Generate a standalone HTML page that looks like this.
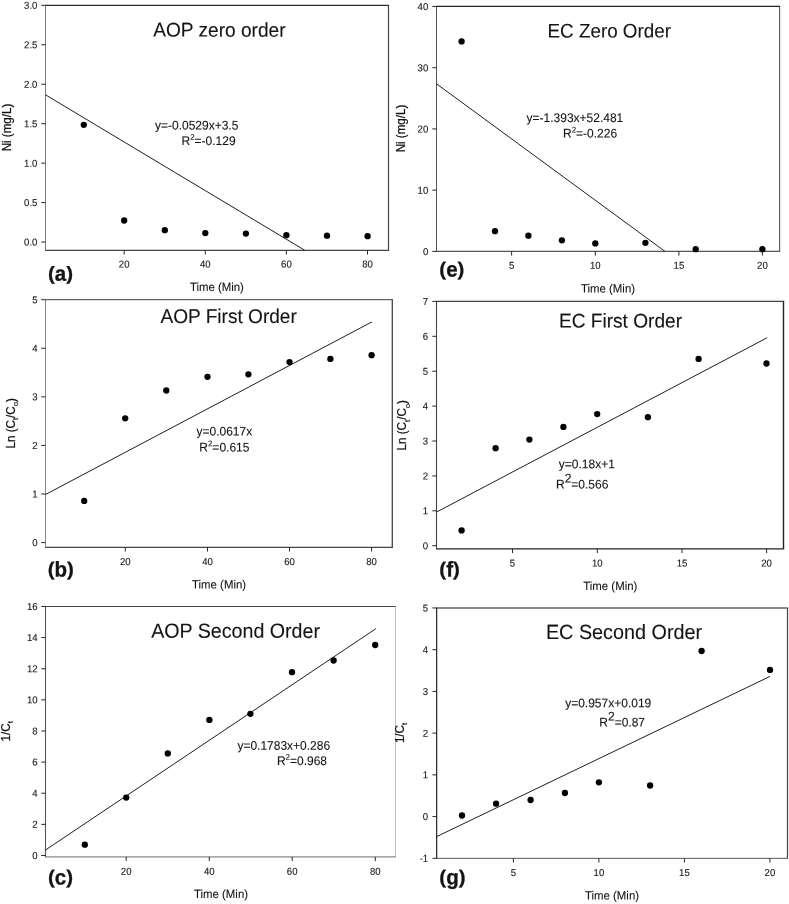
<!DOCTYPE html>
<html><head><meta charset="utf-8"><title>Kinetic order plots</title>
<style>html,body{margin:0;padding:0;background:#fff;}body{width:789px;height:904px;overflow:hidden;font-family:"Liberation Sans",sans-serif;}svg{display:block;font-family:"Liberation Sans",sans-serif;will-change:transform;}</style></head><body>
<svg width="789" height="904" viewBox="0 0 789 904">
<rect x="0" y="0" width="789" height="904" fill="#ffffff"/>
<g id="figure">
<g id="panel-a">
<line x1="45.00" y1="5.30" x2="389.10" y2="5.30" stroke="#2a2a2a" stroke-width="1.3" />
<line x1="388.50" y1="5.30" x2="388.50" y2="250.30" stroke="#444" stroke-width="1.2" />
<line x1="45.00" y1="250.30" x2="389.10" y2="250.30" stroke="#444" stroke-width="1.2" />
<line x1="45.50" y1="5.30" x2="45.50" y2="250.30" stroke="#7c7c7c" stroke-width="1.0" />
<line x1="41.30" y1="5.30" x2="45.50" y2="5.30" stroke="#262626" stroke-width="1.0" />
<text transform="translate(37.40,8.80) rotate(0.03) scale(1,1.04)" font-size="9.6" text-anchor="end" font-weight="normal" fill="#141414" stroke="#141414" stroke-width="0.1" >3.0</text>
<line x1="41.30" y1="44.76" x2="45.50" y2="44.76" stroke="#262626" stroke-width="1.0" />
<text transform="translate(37.40,48.26) rotate(0.03) scale(1,1.04)" font-size="9.6" text-anchor="end" font-weight="normal" fill="#141414" stroke="#141414" stroke-width="0.1" >2.5</text>
<line x1="41.30" y1="84.22" x2="45.50" y2="84.22" stroke="#262626" stroke-width="1.0" />
<text transform="translate(37.40,87.72) rotate(0.03) scale(1,1.04)" font-size="9.6" text-anchor="end" font-weight="normal" fill="#141414" stroke="#141414" stroke-width="0.1" >2.0</text>
<line x1="41.30" y1="123.68" x2="45.50" y2="123.68" stroke="#262626" stroke-width="1.0" />
<text transform="translate(37.40,127.18) rotate(0.03) scale(1,1.04)" font-size="9.6" text-anchor="end" font-weight="normal" fill="#141414" stroke="#141414" stroke-width="0.1" >1.5</text>
<line x1="41.30" y1="163.14" x2="45.50" y2="163.14" stroke="#262626" stroke-width="1.0" />
<text transform="translate(37.40,166.64) rotate(0.03) scale(1,1.04)" font-size="9.6" text-anchor="end" font-weight="normal" fill="#141414" stroke="#141414" stroke-width="0.1" >1.0</text>
<line x1="41.30" y1="202.60" x2="45.50" y2="202.60" stroke="#262626" stroke-width="1.0" />
<text transform="translate(37.40,206.10) rotate(0.03) scale(1,1.04)" font-size="9.6" text-anchor="end" font-weight="normal" fill="#141414" stroke="#141414" stroke-width="0.1" >0.5</text>
<line x1="41.30" y1="242.06" x2="45.50" y2="242.06" stroke="#262626" stroke-width="1.0" />
<text transform="translate(37.40,245.56) rotate(0.03) scale(1,1.04)" font-size="9.6" text-anchor="end" font-weight="normal" fill="#141414" stroke="#141414" stroke-width="0.1" >0.0</text>
<line x1="124.20" y1="250.30" x2="124.20" y2="254.50" stroke="#262626" stroke-width="1.0" />
<text transform="translate(124.20,267.55) rotate(0.03) scale(1,1.04)" font-size="9.6" text-anchor="middle" font-weight="normal" fill="#141414" stroke="#141414" stroke-width="0.1" >20</text>
<line x1="205.30" y1="250.30" x2="205.30" y2="254.50" stroke="#262626" stroke-width="1.0" />
<text transform="translate(205.30,267.55) rotate(0.03) scale(1,1.04)" font-size="9.6" text-anchor="middle" font-weight="normal" fill="#141414" stroke="#141414" stroke-width="0.1" >40</text>
<line x1="286.40" y1="250.30" x2="286.40" y2="254.50" stroke="#262626" stroke-width="1.0" />
<text transform="translate(286.40,267.55) rotate(0.03) scale(1,1.04)" font-size="9.6" text-anchor="middle" font-weight="normal" fill="#141414" stroke="#141414" stroke-width="0.1" >60</text>
<line x1="367.50" y1="250.30" x2="367.50" y2="254.50" stroke="#262626" stroke-width="1.0" />
<text transform="translate(367.50,267.55) rotate(0.03) scale(1,1.04)" font-size="9.6" text-anchor="middle" font-weight="normal" fill="#141414" stroke="#141414" stroke-width="0.1" >80</text>
<text transform="translate(216.90,290.90) rotate(0.03) scale(1,1.04)" font-size="11.4" text-anchor="middle" font-weight="normal" fill="#141414" stroke="#141414" stroke-width="0.1" >Time (Min)</text>
<text transform="translate(10.70,127.50) rotate(-90) scale(1,1.04)" font-size="11.6" stroke="#141414" stroke-width="0.22" text-anchor="middle" fill="#141414">Ni (mg/L)</text>
<text transform="translate(47.95,279.65) rotate(0.03) scale(1,0.925)" font-size="20.5" font-weight="bold" fill="#141414" stroke="#141414" stroke-width="0.3">(</text>
<text transform="translate(54.78,280.65) rotate(0.03) scale(1,1.04)" font-size="20.5" font-weight="bold" fill="#141414" stroke="#141414" stroke-width="0.3">a</text>
<text transform="translate(66.17,279.65) rotate(0.03) scale(1,0.925)" font-size="20.5" font-weight="bold" fill="#141414" stroke="#141414" stroke-width="0.3">)</text>
<text transform="translate(153.30,36.60) rotate(0.03) scale(1,1.04)" font-size="19.1" text-anchor="start" font-weight="normal" fill="#141414" stroke="#141414" stroke-width="0.1" >AOP zero order</text>
<text transform="translate(155.00,129.50) rotate(0.03) scale(1,1.04)" font-size="12.0" text-anchor="start" font-weight="normal" fill="#141414" stroke="#141414" stroke-width="0.1" >y=-0.0529x+3.5</text>
<text transform="translate(181.50,144.90) rotate(0.03) scale(1,1.04)" font-size="12.0" text-anchor="start" font-weight="normal" fill="#141414" stroke="#141414" stroke-width="0.1" >R<tspan font-size="7.9" dy="-5.0">2</tspan><tspan dy="5.0">=-0.129</tspan></text>
<line x1="45.50" y1="94.80" x2="304.80" y2="250.30" stroke="#1e1e1e" stroke-width="1.0" />
<circle cx="83.80" cy="124.80" r="3.15" fill="#000"/>
<circle cx="124.20" cy="220.50" r="3.15" fill="#000"/>
<circle cx="164.80" cy="230.20" r="3.15" fill="#000"/>
<circle cx="205.30" cy="233.10" r="3.15" fill="#000"/>
<circle cx="245.90" cy="233.60" r="3.15" fill="#000"/>
<circle cx="286.40" cy="235.20" r="3.15" fill="#000"/>
<circle cx="327.00" cy="235.70" r="3.15" fill="#000"/>
<circle cx="367.60" cy="236.20" r="3.15" fill="#000"/>
</g>
<g id="panel-e">
<line x1="436.00" y1="6.45" x2="780.15" y2="6.45" stroke="#222" stroke-width="1.2" />
<line x1="779.60" y1="6.45" x2="779.60" y2="251.40" stroke="#555" stroke-width="1.1" />
<line x1="436.00" y1="251.40" x2="780.15" y2="251.40" stroke="#555" stroke-width="1.1" />
<line x1="436.50" y1="6.45" x2="436.50" y2="251.40" stroke="#555" stroke-width="1.0" />
<line x1="432.30" y1="6.45" x2="436.50" y2="6.45" stroke="#262626" stroke-width="1.0" />
<text transform="translate(428.30,9.95) rotate(0.03) scale(1,1.04)" font-size="9.6" text-anchor="end" font-weight="normal" fill="#141414" stroke="#141414" stroke-width="0.1" >40</text>
<line x1="432.30" y1="67.69" x2="436.50" y2="67.69" stroke="#262626" stroke-width="1.0" />
<text transform="translate(428.30,71.19) rotate(0.03) scale(1,1.04)" font-size="9.6" text-anchor="end" font-weight="normal" fill="#141414" stroke="#141414" stroke-width="0.1" >30</text>
<line x1="432.30" y1="128.93" x2="436.50" y2="128.93" stroke="#262626" stroke-width="1.0" />
<text transform="translate(428.30,132.43) rotate(0.03) scale(1,1.04)" font-size="9.6" text-anchor="end" font-weight="normal" fill="#141414" stroke="#141414" stroke-width="0.1" >20</text>
<line x1="432.30" y1="190.17" x2="436.50" y2="190.17" stroke="#262626" stroke-width="1.0" />
<text transform="translate(428.30,193.67) rotate(0.03) scale(1,1.04)" font-size="9.6" text-anchor="end" font-weight="normal" fill="#141414" stroke="#141414" stroke-width="0.1" >10</text>
<line x1="432.30" y1="251.41" x2="436.50" y2="251.41" stroke="#262626" stroke-width="1.0" />
<text transform="translate(428.30,254.91) rotate(0.03) scale(1,1.04)" font-size="9.6" text-anchor="end" font-weight="normal" fill="#141414" stroke="#141414" stroke-width="0.1" >0</text>
<line x1="511.60" y1="251.40" x2="511.60" y2="255.60" stroke="#262626" stroke-width="1.0" />
<text transform="translate(511.60,268.85) rotate(0.03) scale(1,1.04)" font-size="9.6" text-anchor="middle" font-weight="normal" fill="#141414" stroke="#141414" stroke-width="0.1" >5</text>
<line x1="595.30" y1="251.40" x2="595.30" y2="255.60" stroke="#262626" stroke-width="1.0" />
<text transform="translate(595.30,268.85) rotate(0.03) scale(1,1.04)" font-size="9.6" text-anchor="middle" font-weight="normal" fill="#141414" stroke="#141414" stroke-width="0.1" >10</text>
<line x1="678.90" y1="251.40" x2="678.90" y2="255.60" stroke="#262626" stroke-width="1.0" />
<text transform="translate(678.90,268.85) rotate(0.03) scale(1,1.04)" font-size="9.6" text-anchor="middle" font-weight="normal" fill="#141414" stroke="#141414" stroke-width="0.1" >15</text>
<line x1="762.40" y1="251.40" x2="762.40" y2="255.60" stroke="#262626" stroke-width="1.0" />
<text transform="translate(762.40,268.85) rotate(0.03) scale(1,1.04)" font-size="9.6" text-anchor="middle" font-weight="normal" fill="#141414" stroke="#141414" stroke-width="0.1" >20</text>
<text transform="translate(608.00,292.60) rotate(0.03) scale(1,1.04)" font-size="11.4" text-anchor="middle" font-weight="normal" fill="#141414" stroke="#141414" stroke-width="0.1" >Time (Min)</text>
<text transform="translate(404.50,128.50) rotate(-90) scale(1,1.04)" font-size="11.6" stroke="#141414" stroke-width="0.22" text-anchor="middle" fill="#141414">Ni (mg/L)</text>
<text transform="translate(439.35,275.55) rotate(0.03) scale(1,0.925)" font-size="20.5" font-weight="bold" fill="#141414" stroke="#141414" stroke-width="0.3">(</text>
<text transform="translate(446.18,276.55) rotate(0.03) scale(1,1.04)" font-size="20.5" font-weight="bold" fill="#141414" stroke="#141414" stroke-width="0.3">e</text>
<text transform="translate(457.57,275.55) rotate(0.03) scale(1,0.925)" font-size="20.5" font-weight="bold" fill="#141414" stroke="#141414" stroke-width="0.3">)</text>
<text transform="translate(547.50,37.40) rotate(0.03) scale(1,1.04)" font-size="18.85" text-anchor="start" font-weight="normal" fill="#141414" stroke="#141414" stroke-width="0.1" >EC Zero Order</text>
<text transform="translate(526.60,121.90) rotate(0.03) scale(1,1.04)" font-size="12.0" text-anchor="start" font-weight="normal" fill="#141414" stroke="#141414" stroke-width="0.1" >y=-1.393x+52.481</text>
<text transform="translate(563.00,137.60) rotate(0.03) scale(1,1.04)" font-size="12.0" text-anchor="start" font-weight="normal" fill="#141414" stroke="#141414" stroke-width="0.1" >R<tspan font-size="7.9" dy="-5.0">2</tspan><tspan dy="5.0">=-0.226</tspan></text>
<line x1="436.50" y1="83.80" x2="665.00" y2="251.40" stroke="#1e1e1e" stroke-width="1.0" />
<circle cx="461.60" cy="41.40" r="3.15" fill="#000"/>
<circle cx="495.00" cy="231.20" r="3.15" fill="#000"/>
<circle cx="528.40" cy="235.70" r="3.15" fill="#000"/>
<circle cx="561.90" cy="240.30" r="3.15" fill="#000"/>
<circle cx="595.30" cy="243.40" r="3.15" fill="#000"/>
<circle cx="645.40" cy="242.80" r="3.15" fill="#000"/>
<circle cx="695.70" cy="249.20" r="3.15" fill="#000"/>
<circle cx="762.40" cy="249.20" r="3.15" fill="#000"/>
</g>
<g id="panel-b">
<line x1="45.00" y1="299.70" x2="392.95" y2="299.70" stroke="#666" stroke-width="1.3" />
<line x1="392.30" y1="299.70" x2="392.30" y2="547.30" stroke="#444" stroke-width="1.3" />
<line x1="45.00" y1="547.30" x2="392.95" y2="547.30" stroke="#444" stroke-width="1.2" />
<line x1="45.50" y1="299.70" x2="45.50" y2="547.30" stroke="#858585" stroke-width="1.0" />
<line x1="41.30" y1="299.70" x2="45.50" y2="299.70" stroke="#262626" stroke-width="1.0" />
<text transform="translate(37.60,303.20) rotate(0.03) scale(1,1.04)" font-size="9.6" text-anchor="end" font-weight="normal" fill="#141414" stroke="#141414" stroke-width="0.1" >5</text>
<line x1="41.30" y1="348.28" x2="45.50" y2="348.28" stroke="#262626" stroke-width="1.0" />
<text transform="translate(37.60,351.78) rotate(0.03) scale(1,1.04)" font-size="9.6" text-anchor="end" font-weight="normal" fill="#141414" stroke="#141414" stroke-width="0.1" >4</text>
<line x1="41.30" y1="396.86" x2="45.50" y2="396.86" stroke="#262626" stroke-width="1.0" />
<text transform="translate(37.60,400.36) rotate(0.03) scale(1,1.04)" font-size="9.6" text-anchor="end" font-weight="normal" fill="#141414" stroke="#141414" stroke-width="0.1" >3</text>
<line x1="41.30" y1="445.44" x2="45.50" y2="445.44" stroke="#262626" stroke-width="1.0" />
<text transform="translate(37.60,448.94) rotate(0.03) scale(1,1.04)" font-size="9.6" text-anchor="end" font-weight="normal" fill="#141414" stroke="#141414" stroke-width="0.1" >2</text>
<line x1="41.30" y1="494.02" x2="45.50" y2="494.02" stroke="#262626" stroke-width="1.0" />
<text transform="translate(37.60,497.52) rotate(0.03) scale(1,1.04)" font-size="9.6" text-anchor="end" font-weight="normal" fill="#141414" stroke="#141414" stroke-width="0.1" >1</text>
<line x1="41.30" y1="542.60" x2="45.50" y2="542.60" stroke="#262626" stroke-width="1.0" />
<text transform="translate(37.60,546.10) rotate(0.03) scale(1,1.04)" font-size="9.6" text-anchor="end" font-weight="normal" fill="#141414" stroke="#141414" stroke-width="0.1" >0</text>
<line x1="125.30" y1="547.30" x2="125.30" y2="551.50" stroke="#262626" stroke-width="1.0" />
<text transform="translate(125.30,565.05) rotate(0.03) scale(1,1.04)" font-size="9.6" text-anchor="middle" font-weight="normal" fill="#141414" stroke="#141414" stroke-width="0.1" >20</text>
<line x1="207.50" y1="547.30" x2="207.50" y2="551.50" stroke="#262626" stroke-width="1.0" />
<text transform="translate(207.50,565.05) rotate(0.03) scale(1,1.04)" font-size="9.6" text-anchor="middle" font-weight="normal" fill="#141414" stroke="#141414" stroke-width="0.1" >40</text>
<line x1="289.50" y1="547.30" x2="289.50" y2="551.50" stroke="#262626" stroke-width="1.0" />
<text transform="translate(289.50,565.05) rotate(0.03) scale(1,1.04)" font-size="9.6" text-anchor="middle" font-weight="normal" fill="#141414" stroke="#141414" stroke-width="0.1" >60</text>
<line x1="371.60" y1="547.30" x2="371.60" y2="551.50" stroke="#262626" stroke-width="1.0" />
<text transform="translate(371.60,565.05) rotate(0.03) scale(1,1.04)" font-size="9.6" text-anchor="middle" font-weight="normal" fill="#141414" stroke="#141414" stroke-width="0.1" >80</text>
<text transform="translate(219.05,588.50) rotate(0.03) scale(1,1.04)" font-size="11.4" text-anchor="middle" font-weight="normal" fill="#141414" stroke="#141414" stroke-width="0.1" >Time (Min)</text>
<text transform="translate(14.90,423.30) rotate(-90) scale(1,1.04)" font-size="11.6" stroke="#141414" stroke-width="0.22" text-anchor="middle" fill="#141414">Ln (C<tspan font-size="7.8" dy="3.3">t</tspan><tspan dy="-3.3">/C</tspan><tspan font-size="7.8" dy="3.3">o</tspan><tspan dy="-3.3">)</tspan></text>
<text transform="translate(47.75,575.45) rotate(0.03) scale(1,0.925)" font-size="20.5" font-weight="bold" fill="#141414" stroke="#141414" stroke-width="0.3">(</text>
<text transform="translate(54.58,576.45) rotate(0.03) scale(1,1.04)" font-size="20.5" font-weight="bold" fill="#141414" stroke="#141414" stroke-width="0.3">b</text>
<text transform="translate(67.10,575.45) rotate(0.03) scale(1,0.925)" font-size="20.5" font-weight="bold" fill="#141414" stroke="#141414" stroke-width="0.3">)</text>
<text transform="translate(160.40,323.00) rotate(0.03) scale(1,1.04)" font-size="19.1" text-anchor="start" font-weight="normal" fill="#141414" stroke="#141414" stroke-width="0.1" >AOP First Order</text>
<text transform="translate(224.35,435.50) rotate(0.03) scale(1,1.04)" font-size="12.0" text-anchor="middle" font-weight="normal" fill="#141414" stroke="#141414" stroke-width="0.1" >y=0.0617x</text>
<text transform="translate(224.35,451.40) rotate(0.03) scale(1,1.04)" font-size="12.0" text-anchor="middle" font-weight="normal" fill="#141414" stroke="#141414" stroke-width="0.1" >R<tspan font-size="7.9" dy="-5.0">2</tspan><tspan dy="5.0">=0.615</tspan></text>
<line x1="45.50" y1="494.50" x2="371.90" y2="321.90" stroke="#1e1e1e" stroke-width="1.0" />
<circle cx="84.20" cy="500.90" r="3.15" fill="#000"/>
<circle cx="125.20" cy="418.30" r="3.15" fill="#000"/>
<circle cx="166.30" cy="390.50" r="3.15" fill="#000"/>
<circle cx="207.50" cy="376.80" r="3.15" fill="#000"/>
<circle cx="248.40" cy="374.30" r="3.15" fill="#000"/>
<circle cx="289.50" cy="362.10" r="3.15" fill="#000"/>
<circle cx="330.40" cy="358.90" r="3.15" fill="#000"/>
<circle cx="371.60" cy="355.20" r="3.15" fill="#000"/>
</g>
<g id="panel-f">
<line x1="435.95" y1="301.40" x2="784.20" y2="301.40" stroke="#444" stroke-width="1.1" />
<line x1="783.50" y1="301.40" x2="783.50" y2="548.85" stroke="#222" stroke-width="1.4" />
<line x1="435.95" y1="548.85" x2="784.20" y2="548.85" stroke="#222" stroke-width="1.4" />
<line x1="436.50" y1="301.40" x2="436.50" y2="548.85" stroke="#444" stroke-width="1.1" />
<line x1="432.30" y1="301.40" x2="436.50" y2="301.40" stroke="#262626" stroke-width="1.0" />
<text transform="translate(428.20,304.90) rotate(0.03) scale(1,1.04)" font-size="9.6" text-anchor="end" font-weight="normal" fill="#141414" stroke="#141414" stroke-width="0.1" >7</text>
<line x1="432.30" y1="336.30" x2="436.50" y2="336.30" stroke="#262626" stroke-width="1.0" />
<text transform="translate(428.20,339.80) rotate(0.03) scale(1,1.04)" font-size="9.6" text-anchor="end" font-weight="normal" fill="#141414" stroke="#141414" stroke-width="0.1" >6</text>
<line x1="432.30" y1="371.20" x2="436.50" y2="371.20" stroke="#262626" stroke-width="1.0" />
<text transform="translate(428.20,374.70) rotate(0.03) scale(1,1.04)" font-size="9.6" text-anchor="end" font-weight="normal" fill="#141414" stroke="#141414" stroke-width="0.1" >5</text>
<line x1="432.30" y1="406.10" x2="436.50" y2="406.10" stroke="#262626" stroke-width="1.0" />
<text transform="translate(428.20,409.60) rotate(0.03) scale(1,1.04)" font-size="9.6" text-anchor="end" font-weight="normal" fill="#141414" stroke="#141414" stroke-width="0.1" >4</text>
<line x1="432.30" y1="441.00" x2="436.50" y2="441.00" stroke="#262626" stroke-width="1.0" />
<text transform="translate(428.20,444.50) rotate(0.03) scale(1,1.04)" font-size="9.6" text-anchor="end" font-weight="normal" fill="#141414" stroke="#141414" stroke-width="0.1" >3</text>
<line x1="432.30" y1="475.90" x2="436.50" y2="475.90" stroke="#262626" stroke-width="1.0" />
<text transform="translate(428.20,479.40) rotate(0.03) scale(1,1.04)" font-size="9.6" text-anchor="end" font-weight="normal" fill="#141414" stroke="#141414" stroke-width="0.1" >2</text>
<line x1="432.30" y1="510.80" x2="436.50" y2="510.80" stroke="#262626" stroke-width="1.0" />
<text transform="translate(428.20,514.30) rotate(0.03) scale(1,1.04)" font-size="9.6" text-anchor="end" font-weight="normal" fill="#141414" stroke="#141414" stroke-width="0.1" >1</text>
<line x1="432.30" y1="545.70" x2="436.50" y2="545.70" stroke="#262626" stroke-width="1.0" />
<text transform="translate(428.20,549.20) rotate(0.03) scale(1,1.04)" font-size="9.6" text-anchor="end" font-weight="normal" fill="#141414" stroke="#141414" stroke-width="0.1" >0</text>
<line x1="512.50" y1="548.85" x2="512.50" y2="553.05" stroke="#262626" stroke-width="1.0" />
<text transform="translate(512.50,566.60) rotate(0.03) scale(1,1.04)" font-size="9.6" text-anchor="middle" font-weight="normal" fill="#141414" stroke="#141414" stroke-width="0.1" >5</text>
<line x1="597.30" y1="548.85" x2="597.30" y2="553.05" stroke="#262626" stroke-width="1.0" />
<text transform="translate(597.30,566.60) rotate(0.03) scale(1,1.04)" font-size="9.6" text-anchor="middle" font-weight="normal" fill="#141414" stroke="#141414" stroke-width="0.1" >10</text>
<line x1="682.00" y1="548.85" x2="682.00" y2="553.05" stroke="#262626" stroke-width="1.0" />
<text transform="translate(682.00,566.60) rotate(0.03) scale(1,1.04)" font-size="9.6" text-anchor="middle" font-weight="normal" fill="#141414" stroke="#141414" stroke-width="0.1" >15</text>
<line x1="766.60" y1="548.85" x2="766.60" y2="553.05" stroke="#262626" stroke-width="1.0" />
<text transform="translate(766.60,566.60) rotate(0.03) scale(1,1.04)" font-size="9.6" text-anchor="middle" font-weight="normal" fill="#141414" stroke="#141414" stroke-width="0.1" >20</text>
<text transform="translate(610.30,590.05) rotate(0.03) scale(1,1.04)" font-size="11.4" text-anchor="middle" font-weight="normal" fill="#141414" stroke="#141414" stroke-width="0.1" >Time (Min)</text>
<text transform="translate(406.30,425.20) rotate(-90) scale(1,1.04)" font-size="11.6" stroke="#141414" stroke-width="0.22" text-anchor="middle" fill="#141414">Ln (C<tspan font-size="7.8" dy="3.3">t</tspan><tspan dy="-3.3">/C</tspan><tspan font-size="7.8" dy="3.3">o</tspan><tspan dy="-3.3">)</tspan></text>
<text transform="translate(439.35,575.45) rotate(0.03) scale(1,0.925)" font-size="20.5" font-weight="bold" fill="#141414" stroke="#141414" stroke-width="0.3">(</text>
<text transform="translate(446.18,576.45) rotate(0.03) scale(1,1.04)" font-size="20.5" font-weight="bold" fill="#141414" stroke="#141414" stroke-width="0.3">f</text>
<text transform="translate(453.00,575.45) rotate(0.03) scale(1,0.925)" font-size="20.5" font-weight="bold" fill="#141414" stroke="#141414" stroke-width="0.3">)</text>
<text transform="translate(559.00,327.50) rotate(0.03) scale(1,1.04)" font-size="19.1" text-anchor="start" font-weight="normal" fill="#141414" stroke="#141414" stroke-width="0.1" >EC First Order</text>
<text transform="translate(558.80,468.30) rotate(0.03) scale(1,1.04)" font-size="12.0" text-anchor="start" font-weight="normal" fill="#141414" stroke="#141414" stroke-width="0.1" >y=0.18x+1</text>
<text transform="translate(556.00,488.40) rotate(0.03) scale(1,1.04)" font-size="12.0" text-anchor="start" font-weight="normal" fill="#141414" stroke="#141414" stroke-width="0.1" >R<tspan dy="-5.8">2</tspan><tspan dy="5.8">=0.566</tspan></text>
<line x1="436.50" y1="512.10" x2="767.20" y2="337.70" stroke="#1e1e1e" stroke-width="1.0" />
<circle cx="461.60" cy="530.40" r="3.15" fill="#000"/>
<circle cx="495.60" cy="448.20" r="3.15" fill="#000"/>
<circle cx="529.40" cy="439.60" r="3.15" fill="#000"/>
<circle cx="563.40" cy="426.90" r="3.15" fill="#000"/>
<circle cx="597.20" cy="414.10" r="3.15" fill="#000"/>
<circle cx="647.90" cy="417.20" r="3.15" fill="#000"/>
<circle cx="698.60" cy="358.90" r="3.15" fill="#000"/>
<circle cx="766.50" cy="363.50" r="3.15" fill="#000"/>
</g>
<g id="panel-c">
<line x1="44.95" y1="606.45" x2="395.95" y2="606.45" stroke="#444" stroke-width="1.1" />
<line x1="395.50" y1="606.45" x2="395.50" y2="856.90" stroke="#b4b4b4" stroke-width="0.9" />
<line x1="44.95" y1="856.90" x2="395.95" y2="856.90" stroke="#8a8a8a" stroke-width="1.1" />
<line x1="45.50" y1="606.45" x2="45.50" y2="856.90" stroke="#555" stroke-width="1.1" />
<line x1="41.30" y1="606.45" x2="45.50" y2="606.45" stroke="#262626" stroke-width="1.0" />
<text transform="translate(37.60,609.95) rotate(0.03) scale(1,1.04)" font-size="9.6" text-anchor="end" font-weight="normal" fill="#141414" stroke="#141414" stroke-width="0.1" >16</text>
<line x1="41.30" y1="637.58" x2="45.50" y2="637.58" stroke="#262626" stroke-width="1.0" />
<text transform="translate(37.60,641.08) rotate(0.03) scale(1,1.04)" font-size="9.6" text-anchor="end" font-weight="normal" fill="#141414" stroke="#141414" stroke-width="0.1" >14</text>
<line x1="41.30" y1="668.71" x2="45.50" y2="668.71" stroke="#262626" stroke-width="1.0" />
<text transform="translate(37.60,672.21) rotate(0.03) scale(1,1.04)" font-size="9.6" text-anchor="end" font-weight="normal" fill="#141414" stroke="#141414" stroke-width="0.1" >12</text>
<line x1="41.30" y1="699.84" x2="45.50" y2="699.84" stroke="#262626" stroke-width="1.0" />
<text transform="translate(37.60,703.34) rotate(0.03) scale(1,1.04)" font-size="9.6" text-anchor="end" font-weight="normal" fill="#141414" stroke="#141414" stroke-width="0.1" >10</text>
<line x1="41.30" y1="730.97" x2="45.50" y2="730.97" stroke="#262626" stroke-width="1.0" />
<text transform="translate(37.60,734.47) rotate(0.03) scale(1,1.04)" font-size="9.6" text-anchor="end" font-weight="normal" fill="#141414" stroke="#141414" stroke-width="0.1" >8</text>
<line x1="41.30" y1="762.10" x2="45.50" y2="762.10" stroke="#262626" stroke-width="1.0" />
<text transform="translate(37.60,765.60) rotate(0.03) scale(1,1.04)" font-size="9.6" text-anchor="end" font-weight="normal" fill="#141414" stroke="#141414" stroke-width="0.1" >6</text>
<line x1="41.30" y1="793.23" x2="45.50" y2="793.23" stroke="#262626" stroke-width="1.0" />
<text transform="translate(37.60,796.73) rotate(0.03) scale(1,1.04)" font-size="9.6" text-anchor="end" font-weight="normal" fill="#141414" stroke="#141414" stroke-width="0.1" >4</text>
<line x1="41.30" y1="824.36" x2="45.50" y2="824.36" stroke="#262626" stroke-width="1.0" />
<text transform="translate(37.60,827.86) rotate(0.03) scale(1,1.04)" font-size="9.6" text-anchor="end" font-weight="normal" fill="#141414" stroke="#141414" stroke-width="0.1" >2</text>
<line x1="41.30" y1="855.49" x2="45.50" y2="855.49" stroke="#262626" stroke-width="1.0" />
<text transform="translate(37.60,858.99) rotate(0.03) scale(1,1.04)" font-size="9.6" text-anchor="end" font-weight="normal" fill="#141414" stroke="#141414" stroke-width="0.1" >0</text>
<line x1="126.20" y1="856.90" x2="126.20" y2="861.10" stroke="#262626" stroke-width="1.0" />
<text transform="translate(126.20,874.65) rotate(0.03) scale(1,1.04)" font-size="9.6" text-anchor="middle" font-weight="normal" fill="#141414" stroke="#141414" stroke-width="0.1" >20</text>
<line x1="209.30" y1="856.90" x2="209.30" y2="861.10" stroke="#262626" stroke-width="1.0" />
<text transform="translate(209.30,874.65) rotate(0.03) scale(1,1.04)" font-size="9.6" text-anchor="middle" font-weight="normal" fill="#141414" stroke="#141414" stroke-width="0.1" >40</text>
<line x1="292.20" y1="856.90" x2="292.20" y2="861.10" stroke="#262626" stroke-width="1.0" />
<text transform="translate(292.20,874.65) rotate(0.03) scale(1,1.04)" font-size="9.6" text-anchor="middle" font-weight="normal" fill="#141414" stroke="#141414" stroke-width="0.1" >60</text>
<line x1="375.30" y1="856.90" x2="375.30" y2="861.10" stroke="#262626" stroke-width="1.0" />
<text transform="translate(375.30,874.65) rotate(0.03) scale(1,1.04)" font-size="9.6" text-anchor="middle" font-weight="normal" fill="#141414" stroke="#141414" stroke-width="0.1" >80</text>
<text transform="translate(221.00,898.10) rotate(0.03) scale(1,1.04)" font-size="11.4" text-anchor="middle" font-weight="normal" fill="#141414" stroke="#141414" stroke-width="0.1" >Time (Min)</text>
<text transform="translate(10.00,731.30) rotate(-90) scale(1,1.04)" font-size="11.6" stroke="#141414" stroke-width="0.22" text-anchor="middle" fill="#141414">1/C<tspan font-size="7.8" dy="3.3">t</tspan></text>
<text transform="translate(47.95,883.55) rotate(0.03) scale(1,0.925)" font-size="20.5" font-weight="bold" fill="#141414" stroke="#141414" stroke-width="0.3">(</text>
<text transform="translate(54.78,884.55) rotate(0.03) scale(1,1.04)" font-size="20.5" font-weight="bold" fill="#141414" stroke="#141414" stroke-width="0.3">c</text>
<text transform="translate(66.17,883.55) rotate(0.03) scale(1,0.925)" font-size="20.5" font-weight="bold" fill="#141414" stroke="#141414" stroke-width="0.3">)</text>
<text transform="translate(151.20,637.80) rotate(0.03) scale(1,1.04)" font-size="19.65" text-anchor="start" font-weight="normal" fill="#141414" stroke="#141414" stroke-width="0.1" >AOP Second Order</text>
<text transform="translate(237.40,749.80) rotate(0.03) scale(1,1.04)" font-size="12.0" text-anchor="start" font-weight="normal" fill="#141414" stroke="#141414" stroke-width="0.1" >y=0.1783x+0.286</text>
<text transform="translate(276.90,765.00) rotate(0.03) scale(1,1.04)" font-size="12.0" text-anchor="start" font-weight="normal" fill="#141414" stroke="#141414" stroke-width="0.1" >R<tspan font-size="7.9" dy="-5.0">2</tspan><tspan dy="5.0">=0.968</tspan></text>
<line x1="45.50" y1="850.00" x2="375.70" y2="628.80" stroke="#1e1e1e" stroke-width="1.0" />
<circle cx="84.80" cy="844.70" r="3.15" fill="#000"/>
<circle cx="126.20" cy="797.60" r="3.15" fill="#000"/>
<circle cx="167.80" cy="753.40" r="3.15" fill="#000"/>
<circle cx="209.40" cy="719.90" r="3.15" fill="#000"/>
<circle cx="250.40" cy="713.80" r="3.15" fill="#000"/>
<circle cx="292.00" cy="672.20" r="3.15" fill="#000"/>
<circle cx="333.60" cy="660.50" r="3.15" fill="#000"/>
<circle cx="375.20" cy="645.00" r="3.15" fill="#000"/>
</g>
<g id="panel-g">
<line x1="436.05" y1="607.95" x2="788.10" y2="607.95" stroke="#666" stroke-width="1.5" />
<line x1="787.50" y1="607.95" x2="787.50" y2="858.35" stroke="#444" stroke-width="1.2" />
<line x1="436.05" y1="858.35" x2="788.10" y2="858.35" stroke="#555" stroke-width="1.0" />
<line x1="436.65" y1="607.95" x2="436.65" y2="858.35" stroke="#222" stroke-width="1.2" />
<line x1="432.45" y1="607.95" x2="436.65" y2="607.95" stroke="#262626" stroke-width="1.0" />
<text transform="translate(428.20,611.45) rotate(0.03) scale(1,1.04)" font-size="9.6" text-anchor="end" font-weight="normal" fill="#141414" stroke="#141414" stroke-width="0.1" >5</text>
<line x1="432.45" y1="649.68" x2="436.65" y2="649.68" stroke="#262626" stroke-width="1.0" />
<text transform="translate(428.20,653.18) rotate(0.03) scale(1,1.04)" font-size="9.6" text-anchor="end" font-weight="normal" fill="#141414" stroke="#141414" stroke-width="0.1" >4</text>
<line x1="432.45" y1="691.41" x2="436.65" y2="691.41" stroke="#262626" stroke-width="1.0" />
<text transform="translate(428.20,694.91) rotate(0.03) scale(1,1.04)" font-size="9.6" text-anchor="end" font-weight="normal" fill="#141414" stroke="#141414" stroke-width="0.1" >3</text>
<line x1="432.45" y1="733.14" x2="436.65" y2="733.14" stroke="#262626" stroke-width="1.0" />
<text transform="translate(428.20,736.64) rotate(0.03) scale(1,1.04)" font-size="9.6" text-anchor="end" font-weight="normal" fill="#141414" stroke="#141414" stroke-width="0.1" >2</text>
<line x1="432.45" y1="774.87" x2="436.65" y2="774.87" stroke="#262626" stroke-width="1.0" />
<text transform="translate(428.20,778.37) rotate(0.03) scale(1,1.04)" font-size="9.6" text-anchor="end" font-weight="normal" fill="#141414" stroke="#141414" stroke-width="0.1" >1</text>
<line x1="432.45" y1="816.60" x2="436.65" y2="816.60" stroke="#262626" stroke-width="1.0" />
<text transform="translate(428.20,820.10) rotate(0.03) scale(1,1.04)" font-size="9.6" text-anchor="end" font-weight="normal" fill="#141414" stroke="#141414" stroke-width="0.1" >0</text>
<line x1="432.45" y1="858.33" x2="436.65" y2="858.33" stroke="#262626" stroke-width="1.0" />
<text transform="translate(428.20,861.83) rotate(0.03) scale(1,1.04)" font-size="9.6" text-anchor="end" font-weight="normal" fill="#141414" stroke="#141414" stroke-width="0.1" >-1</text>
<line x1="513.40" y1="858.35" x2="513.40" y2="862.55" stroke="#262626" stroke-width="1.0" />
<text transform="translate(513.40,876.10) rotate(0.03) scale(1,1.04)" font-size="9.6" text-anchor="middle" font-weight="normal" fill="#141414" stroke="#141414" stroke-width="0.1" >5</text>
<line x1="598.90" y1="858.35" x2="598.90" y2="862.55" stroke="#262626" stroke-width="1.0" />
<text transform="translate(598.90,876.10) rotate(0.03) scale(1,1.04)" font-size="9.6" text-anchor="middle" font-weight="normal" fill="#141414" stroke="#141414" stroke-width="0.1" >10</text>
<line x1="684.40" y1="858.35" x2="684.40" y2="862.55" stroke="#262626" stroke-width="1.0" />
<text transform="translate(684.40,876.10) rotate(0.03) scale(1,1.04)" font-size="9.6" text-anchor="middle" font-weight="normal" fill="#141414" stroke="#141414" stroke-width="0.1" >15</text>
<line x1="769.90" y1="858.35" x2="769.90" y2="862.55" stroke="#262626" stroke-width="1.0" />
<text transform="translate(769.90,876.10) rotate(0.03) scale(1,1.04)" font-size="9.6" text-anchor="middle" font-weight="normal" fill="#141414" stroke="#141414" stroke-width="0.1" >20</text>
<text transform="translate(612.00,899.55) rotate(0.03) scale(1,1.04)" font-size="11.4" text-anchor="middle" font-weight="normal" fill="#141414" stroke="#141414" stroke-width="0.1" >Time (Min)</text>
<text transform="translate(403.90,733.00) rotate(-90) scale(1,1.04)" font-size="11.6" stroke="#141414" stroke-width="0.22" text-anchor="middle" fill="#141414">1/C<tspan font-size="7.8" dy="3.3">t</tspan></text>
<text transform="translate(439.35,883.55) rotate(0.03) scale(1,0.925)" font-size="20.5" font-weight="bold" fill="#141414" stroke="#141414" stroke-width="0.3">(</text>
<text transform="translate(446.18,884.55) rotate(0.03) scale(1,1.04)" font-size="20.5" font-weight="bold" fill="#141414" stroke="#141414" stroke-width="0.3">g</text>
<text transform="translate(458.70,883.55) rotate(0.03) scale(1,0.925)" font-size="20.5" font-weight="bold" fill="#141414" stroke="#141414" stroke-width="0.3">)</text>
<text transform="translate(545.90,639.00) rotate(0.03) scale(1,1.04)" font-size="19.8" text-anchor="start" font-weight="normal" fill="#141414" stroke="#141414" stroke-width="0.1" >EC Second Order</text>
<text transform="translate(565.20,707.30) rotate(0.03) scale(1,1.04)" font-size="12.0" text-anchor="start" font-weight="normal" fill="#141414" stroke="#141414" stroke-width="0.1" >y=0.957x+0.019</text>
<text transform="translate(599.30,726.50) rotate(0.03) scale(1,1.04)" font-size="12.0" text-anchor="start" font-weight="normal" fill="#141414" stroke="#141414" stroke-width="0.1" >R<tspan dy="-5.8">2</tspan><tspan dy="5.8">=0.87</tspan></text>
<line x1="436.65" y1="836.60" x2="770.00" y2="676.40" stroke="#1e1e1e" stroke-width="1.0" />
<circle cx="462.00" cy="815.50" r="3.15" fill="#000"/>
<circle cx="496.10" cy="803.70" r="3.15" fill="#000"/>
<circle cx="530.60" cy="800.00" r="3.15" fill="#000"/>
<circle cx="564.90" cy="793.00" r="3.15" fill="#000"/>
<circle cx="598.90" cy="782.30" r="3.15" fill="#000"/>
<circle cx="650.10" cy="785.50" r="3.15" fill="#000"/>
<circle cx="701.60" cy="651.00" r="3.15" fill="#000"/>
<circle cx="770.00" cy="669.90" r="3.15" fill="#000"/>
</g>
</g>
</svg></body></html>
